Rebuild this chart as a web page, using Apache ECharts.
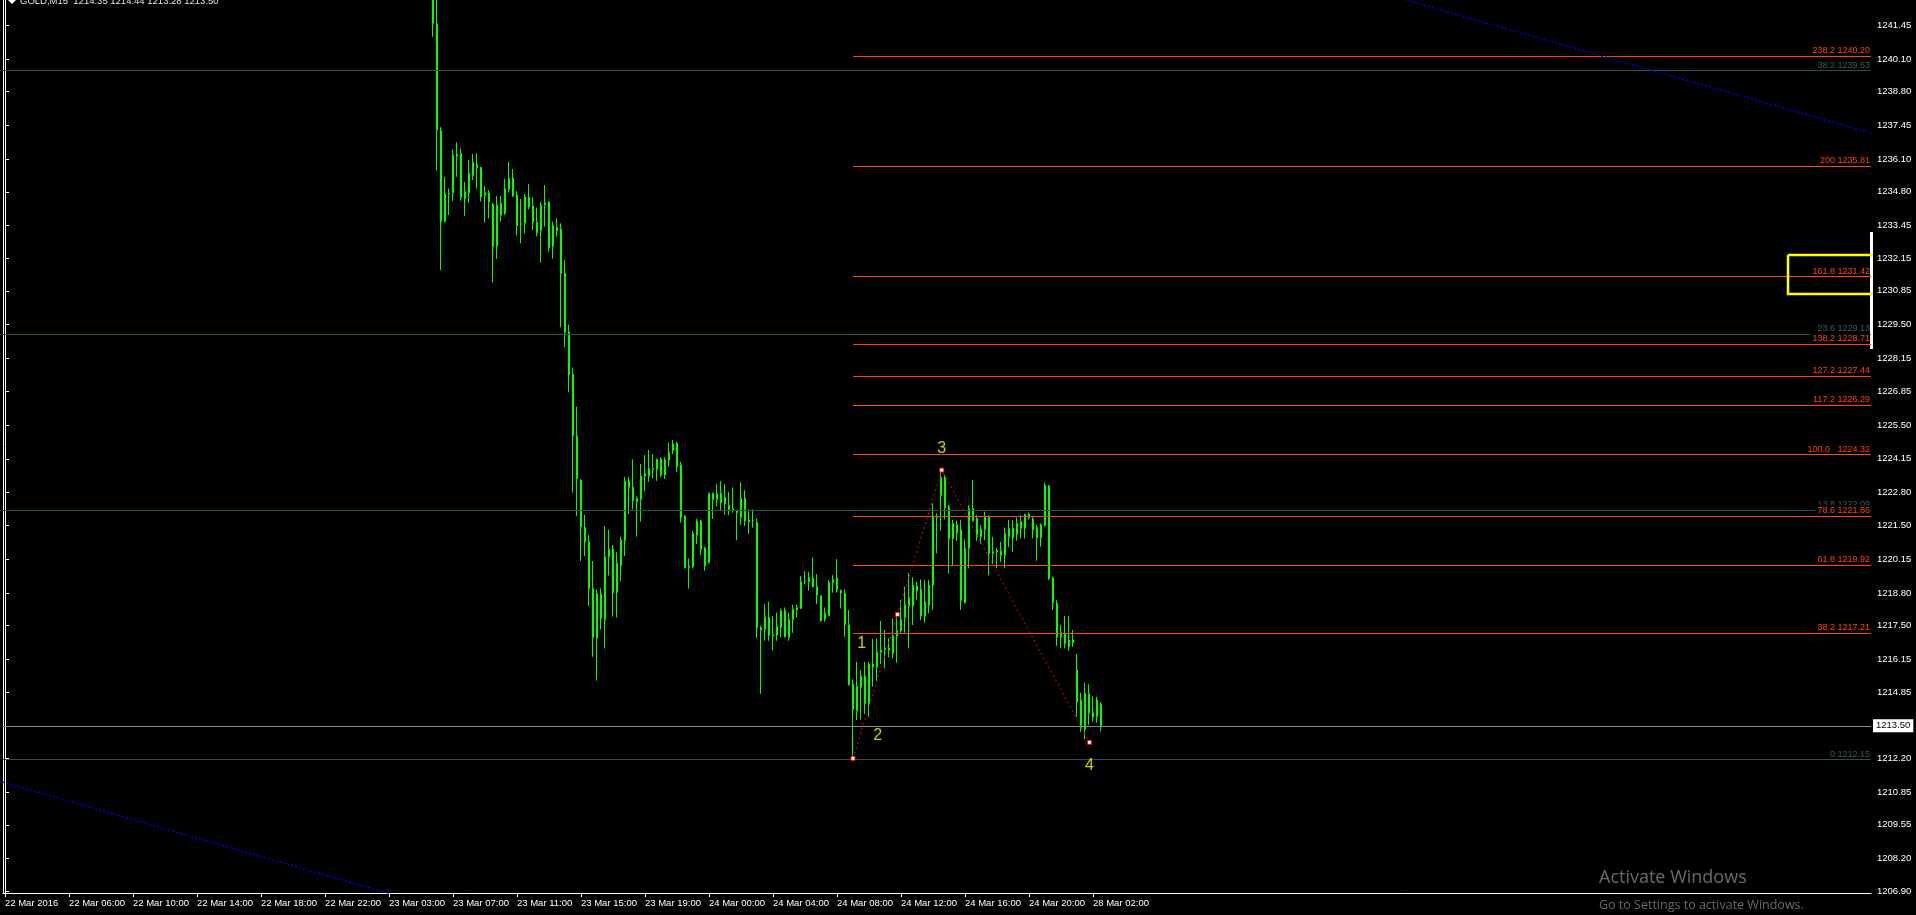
<!DOCTYPE html>
<html><head><meta charset="utf-8">
<script src="https://cdn.jsdelivr.net/npm/echarts@6/dist/echarts.min.js"></script>
<style>html,body{margin:0;padding:0;background:#000;overflow:hidden}#c{width:1916px;height:915px}</style>
</head><body><div id="c"></div>
<script>
// ---------- data ----------
const headerText = 'GOLD,M15  1214.35 1214.44 1213.28 1213.50';
const totalSlots = 467;          // bar slots across the chart (incl. right shift)
const firstBar = 107;            // first visible candle slot
// [open, high, low, close]
const candles = [
[1243.60,1244.10,1240.98,1241.52],[1241.49,1242.90,1235.64,1237.26],[1237.22,1237.38,1231.68,1233.61],
[1233.61,1235.39,1233.58,1234.71],[1234.70,1234.93,1233.87,1234.74],[1234.76,1236.50,1234.43,1236.26],
[1236.22,1236.78,1235.40,1236.30],[1236.33,1236.54,1234.44,1234.58],[1234.52,1235.19,1233.84,1234.82],
[1234.76,1236.07,1234.36,1235.53],[1235.44,1236.30,1235.27,1235.97],[1235.89,1236.34,1234.93,1235.76],
[1235.77,1235.80,1234.42,1234.60],[1234.66,1235.03,1233.57,1234.76],[1234.74,1234.87,1233.74,1234.40],
[1234.31,1234.34,1231.17,1232.61],[1232.64,1234.63,1232.12,1234.27],[1234.34,1234.63,1233.61,1233.87],
[1233.94,1235.31,1233.87,1234.93],[1234.90,1235.99,1234.76,1235.33],[1235.33,1235.71,1234.60,1234.64],
[1234.66,1234.83,1233.05,1233.45],[1233.49,1234.51,1232.74,1233.54],[1233.54,1234.71,1233.14,1234.60],
[1234.58,1235.11,1234.10,1234.20],[1234.23,1234.58,1233.27,1233.61],[1233.57,1234.18,1233.03,1233.17],
[1233.25,1234.38,1231.97,1234.27],[1234.28,1235.07,1233.41,1234.36],[1234.39,1234.42,1232.41,1232.58],
[1232.61,1233.61,1232.13,1233.46],[1233.38,1233.74,1233.01,1233.25],[1233.30,1233.54,1229.40,1231.54],
[1231.54,1232.08,1228.60,1229.20],[1229.20,1229.50,1226.80,1227.50],[1227.50,1227.80,1222.80,1225.07],
[1225.06,1226.23,1221.87,1223.37],[1223.30,1223.33,1220.07,1221.44],[1221.41,1221.91,1220.27,1220.84],
[1220.84,1221.11,1218.28,1218.98],[1218.98,1220.07,1216.25,1217.03],[1216.99,1218.94,1215.30,1218.78],
[1218.74,1218.98,1217.34,1217.78],[1217.72,1221.47,1216.59,1220.24],[1220.24,1221.33,1219.49,1220.54],
[1220.54,1220.71,1217.85,1218.81],[1218.81,1220.42,1217.82,1219.98],[1219.88,1221.04,1219.27,1220.91],
[1220.88,1223.43,1220.27,1223.26],[1223.26,1223.43,1221.95,1223.01],[1223.01,1224.13,1222.13,1222.48],
[1222.44,1222.64,1221.04,1222.57],[1222.53,1223.94,1221.64,1223.46],[1223.46,1224.30,1222.84,1223.54],
[1223.46,1224.50,1223.23,1223.77],[1223.77,1224.34,1223.37,1223.73],[1223.73,1224.16,1223.27,1224.13],
[1224.13,1224.21,1223.41,1223.50],[1223.50,1224.21,1223.34,1224.10],[1224.10,1224.79,1223.83,1224.40],
[1224.47,1224.90,1224.34,1224.74],[1224.76,1224.82,1223.63,1223.83],[1223.90,1224.03,1221.60,1221.81],
[1221.87,1221.91,1219.78,1219.80],[1219.87,1220.18,1218.97,1219.82],[1219.84,1221.27,1219.80,1221.17],
[1221.11,1221.75,1220.75,1221.67],[1221.67,1221.71,1220.31,1220.54],[1220.58,1220.64,1219.68,1219.88],
[1220.00,1222.80,1219.98,1222.77],[1222.77,1222.80,1221.75,1222.53],[1222.53,1223.14,1222.26,1222.77],
[1222.77,1223.26,1222.10,1222.40],[1222.61,1223.14,1221.91,1222.37],[1222.29,1222.82,1221.91,1222.13],
[1222.16,1223.01,1222.00,1222.08],[1222.10,1222.12,1220.91,1222.00],[1221.81,1223.21,1221.51,1222.57],
[1222.57,1222.90,1221.47,1221.68],[1221.71,1222.13,1221.15,1221.64],[1221.68,1222.13,1221.40,1221.71],
[1221.61,1221.77,1217.01,1217.41],[1217.40,1217.48,1214.77,1217.32],[1217.34,1218.36,1216.89,1217.85],
[1217.82,1218.45,1216.89,1217.11],[1217.13,1217.88,1216.49,1217.08],[1217.11,1218.02,1216.89,1217.45],
[1217.42,1218.18,1217.03,1218.09],[1218.09,1218.22,1217.03,1217.05],[1217.03,1218.02,1216.89,1217.74],
[1217.74,1218.32,1217.21,1218.14],[1218.12,1218.34,1217.82,1218.22],[1218.18,1219.47,1218.16,1219.25],
[1219.25,1219.67,1219.14,1219.27],[1219.25,1219.63,1218.89,1219.42],[1219.38,1220.22,1219.02,1219.05],
[1219.05,1219.55,1218.36,1218.71],[1218.69,1218.71,1217.65,1217.69],[1217.74,1218.22,1217.65,1217.98],
[1217.89,1219.31,1217.89,1219.22],[1219.21,1219.51,1218.81,1219.34],[1219.38,1220.15,1218.81,1218.94],
[1218.89,1218.94,1218.18,1218.80],[1218.78,1218.95,1217.05,1217.54],[1217.52,1218.12,1215.10,1215.15],
[1215.15,1215.35,1212.15,1214.15],[1214.10,1216.05,1213.73,1215.08],[1215.03,1215.72,1213.75,1215.48],
[1215.48,1216.05,1213.97,1214.39],[1214.39,1216.05,1213.86,1215.96],[1215.96,1216.96,1215.06,1215.85],
[1215.83,1216.99,1215.30,1216.43],[1216.43,1217.68,1215.96,1216.52],[1216.52,1217.32,1215.79,1216.59],
[1216.59,1216.99,1216.23,1216.52],[1216.39,1217.78,1216.19,1217.08],[1217.08,1217.85,1216.01,1217.29],
[1217.29,1218.51,1217.21,1217.74],[1217.82,1219.05,1217.21,1218.34],[1218.28,1219.60,1216.59,1218.62],
[1218.28,1219.42,1217.52,1219.11],[1219.07,1219.25,1218.54,1218.89],[1218.94,1219.34,1217.72,1217.88],
[1217.88,1219.31,1217.61,1218.45],[1218.31,1219.31,1217.98,1219.11],[1219.11,1222.37,1218.12,1221.84],
[1221.84,1221.97,1220.38,1221.81],[1222.68,1223.77,1221.28,1223.41],[1223.41,1223.50,1221.73,1222.21],
[1222.21,1222.30,1219.58,1220.97],[1220.96,1221.71,1219.87,1221.57],[1221.51,1221.68,1220.88,1221.20],
[1221.31,1221.71,1218.12,1218.51],[1218.41,1220.93,1218.38,1220.58],[1220.58,1222.30,1219.78,1222.17],
[1222.17,1223.30,1221.64,1221.68],[1221.77,1221.90,1220.88,1221.04],[1221.04,1221.51,1220.77,1221.33],
[1221.33,1222.04,1220.91,1221.84],[1221.81,1221.90,1219.51,1220.38],[1220.38,1221.04,1219.95,1220.44],
[1220.44,1220.58,1219.78,1220.51],[1220.46,1220.84,1220.04,1220.30],[1220.30,1221.41,1219.78,1221.17],
[1221.04,1221.71,1220.62,1221.37],[1221.37,1221.71,1220.44,1221.01],[1221.15,1221.81,1220.88,1221.57],
[1221.37,1221.90,1220.97,1221.64],[1221.37,1221.94,1220.97,1221.94],[1221.94,1222.00,1221.73,1221.81],
[1221.75,1221.84,1220.97,1221.33],[1221.41,1221.51,1220.08,1221.01],[1221.01,1221.57,1220.64,1221.51],
[1221.51,1223.19,1221.46,1223.10],[1223.06,1223.10,1219.31,1219.38],[1219.38,1219.44,1218.12,1218.41],
[1218.38,1218.51,1216.68,1217.05],[1217.05,1217.52,1216.59,1217.21],[1217.18,1217.88,1216.59,1216.79],
[1216.65,1217.88,1216.49,1216.92],[1216.92,1217.32,1216.65,1216.81],[1215.72,1216.36,1213.86,1214.46],
[1214.53,1214.82,1213.26,1213.44],[1213.36,1215.22,1212.96,1214.79],[1214.76,1215.16,1213.53,1214.02],
[1214.02,1214.66,1213.66,1213.86],[1213.86,1214.66,1213.62,1214.53],[1214.35,1214.44,1213.28,1213.50]
];
const timeLabels = ['22 Mar 2016','22 Mar 06:00','22 Mar 10:00','22 Mar 14:00','22 Mar 18:00','22 Mar 22:00',
  '23 Mar 03:00','23 Mar 07:00','23 Mar 11:00','23 Mar 15:00','23 Mar 19:00','24 Mar 00:00','24 Mar 04:00',
  '24 Mar 08:00','24 Mar 12:00','24 Mar 16:00','24 Mar 20:00','28 Mar 02:00'];
const labelEvery = 16;
const priceLabels = [1206.90,1208.20,1209.55,1210.85,1212.20,1214.85,1216.15,1217.50,1218.80,1220.15,1221.50,
  1222.80,1224.15,1225.50,1226.85,1228.15,1229.50,1230.85,1232.15,1233.45,1234.80,1236.10,1237.45,1238.80,
  1240.10,1241.45];
const priceMin = 1206.83, priceMax = 1242.45;
const bidPrice = 1213.50;
const fibExpStart = 212;
const fibExpPrices = [1217.21,1219.92,1221.86,1224.32,1226.29,1227.44,1228.71,1231.42,1235.81,1240.20];
const fibExpLabels = ['38.2 1217.21','61.8 1219.92','78.6 1221.86','100.0   1224.32','117.2 1226.29',
  '127.2 1227.44','138.2 1228.71','161.8 1231.42','200 1235.81','238.2 1240.20'];
const fibRetPrices = [1239.63,1229.13,1222.09,1212.15];
const fibRetLabels = ['38.2 1239.63','23.6 1229.13','13.8 1222.09','0 1212.15'];
const wavePoints = [[212,1212.20],[223.1,1217.94],[234.2,1223.70],[271.1,1212.84]];
const waveLabels = [[214.2,1216.79,'1'],[218.2,1213.10,'2'],[234.2,1224.54,'3'],[271.1,1211.93,'4']];
const channelUpper = [[300,1244.74],[467,1237.12]];
const channelLower = [[-0.5,1211.25],[100,1206.63]];
const boxCorners = [[445.75,1232.28],[467.75,1230.72]];

// ---------- chart ----------
const FONT = 'Liberation Sans, Arial, sans-serif';
const chart = echarts.init(document.getElementById('c'));
const catData = Array.from({length: totalSlots}, (_, i) => i);
const candleData = candles.map((r, k) => [firstBar + k, r[0], r[3], r[2], r[1]]);
const showIdx = (i) => i % labelEvery === 0 && i / labelEvery < timeLabels.length;
const tickVals = priceLabels.concat([bidPrice]);
const xEnd = totalSlots - 0.5;

const option = {
  backgroundColor: '#000',
  animation: false,
  grid: {left: 3, right: 45, top: 0, bottom: 22, outerBoundsMode: 'none'},
  xAxis: [
    {type: 'category', data: catData, boundaryGap: true,
     axisLine: {show: true, lineStyle: {color: '#fff', width: 1}},
     axisTick: {show: true, alignWithLabel: true, interval: showIdx, length: 4, lineStyle: {color: '#fff'}},
     axisLabel: {show: true, interval: showIdx, formatter: (v, i) => timeLabels[i / labelEvery],
                 align: 'left', color: '#fff', fontSize: 9.5, fontFamily: FONT, margin: 5},
     splitLine: {show: false}},
    {type: 'value', min: -0.5, max: xEnd, show: false}
  ],
  yAxis: [{type: 'value', position: 'right', min: priceMin, max: priceMax,
    splitLine: {show: false},
    axisLine: {show: true, lineStyle: {color: '#fff', width: 1}},
    axisTick: {show: true, customValues: tickVals, length: 4, lineStyle: {color: '#fff'}},
    axisLabel: {customValues: priceLabels, formatter: (v) => Number(v).toFixed(2), color: '#fff',
                fontSize: 9.5, fontFamily: FONT, margin: 6}}],
  series: [
    {type: 'line', xAxisIndex: 1, data: [], z: 2, silent: true,
     markLine: {silent: true, symbol: ['none', 'none'], animation: false,
       lineStyle: {color: '#2F4F4F', width: 1, type: 'solid'}, emphasis: {disabled: true},
       label: {show: true, position: 'insideEndTop', formatter: '{b}', color: '#3a5e5e', fontSize: 9,
               fontFamily: FONT, distance: 1, padding: [1, 0, 0, 2]},
       data: fibRetPrices.map((p, k) => [{name: fibRetLabels[k], coord: [-0.5, p]}, {coord: [xEnd, p]}])}},
    {type: 'line', xAxisIndex: 1, data: [], z: 2, silent: true,
     markLine: {silent: true, symbol: ['none', 'none'], animation: false,
       lineStyle: {color: '#8c8c8c', width: 1, type: 'solid'}, emphasis: {disabled: true},
       label: {show: true, position: 'end', formatter: bidPrice.toFixed(2), color: '#000', backgroundColor: '#fff',
               fontSize: 9.5, fontFamily: FONT, distance: 2, padding: [2, 3, 1, 3]},
       data: [[{coord: [-0.5, bidPrice]}, {coord: [xEnd, bidPrice]}]]}},
    {type: 'candlestick', xAxisIndex: 0, data: candleData, encode: {x: 0, y: [1, 2, 3, 4]},
     barWidth: 2, z: 3, silent: true,
     itemStyle: {color: '#000000', color0: '#ffffff', borderColor: '#00FF00', borderColor0: '#00FF00',
                 borderColorDoji: '#00FF00', borderWidth: 1}},
    {type: 'line', xAxisIndex: 1, data: [], z: 4, silent: true,
     markLine: {silent: true, symbol: ['none', 'none'], animation: false,
       lineStyle: {color: '#FF4500', width: 1, type: 'solid'}, emphasis: {disabled: true},
       label: {show: true, position: 'insideEndTop', formatter: '{b}', color: '#FF4500', fontSize: 9,
               fontFamily: FONT, distance: 1, backgroundColor: '#000', padding: [1, 0, 0, 2]},
       data: fibExpPrices.map((p, k) => [{name: fibExpLabels[k], coord: [fibExpStart, p]}, {coord: [xEnd, p]}])}},
    {type: 'line', xAxisIndex: 1, data: channelUpper, symbol: 'none', z: 5, silent: true,
     lineStyle: {color: '#0000FF', width: 1.3, type: [2, 2]}},
    {type: 'line', xAxisIndex: 1, data: channelLower, symbol: 'none', z: 5, silent: true,
     lineStyle: {color: '#0000FF', width: 1.3, type: [2, 2]}},
    {type: 'line', xAxisIndex: 1, data: wavePoints, z: 6, silent: true,
     symbol: 'rect', symbolSize: 4, showAllSymbol: true,
     itemStyle: {color: '#ffffff', borderColor: '#FF0000', borderWidth: 1},
     lineStyle: {color: '#FF0000', width: 1, type: [2, 3]}},
    {type: 'scatter', xAxisIndex: 1, data: waveLabels, symbolSize: 0, z: 7, silent: true,
     label: {show: true, position: 'inside', formatter: (p) => p.value[2], color: '#FFFF00',
             fontSize: 16, fontFamily: FONT}},
    {type: 'line', xAxisIndex: 1, clip: false, symbol: 'none', z: 8, silent: true,
     data: [[boxCorners[0][0], boxCorners[0][1]], [boxCorners[1][0], boxCorners[0][1]],
            [boxCorners[1][0], boxCorners[1][1]], [boxCorners[0][0], boxCorners[1][1]],
            [boxCorners[0][0], boxCorners[0][1]]],
     lineStyle: {color: '#FFFF00', width: 2.5, join: 'miter'}}
  ],
  graphic: [
    {type: 'line', shape: {x1: 3.5, y1: 0, x2: 3.5, y2: 893}, style: {stroke: '#ffffff', lineWidth: 1}, silent: true},
    {type: 'rect', shape: {x: 1870, y: 232, width: 3, height: 117}, style: {fill: '#ffffff'}, silent: true},
    {type: 'polygon', shape: {points: [[8, 0], [16, 0], [12, 4]]}, style: {fill: '#ffffff'}, silent: true},
    {type: 'text', x: 20, y: 1.5, silent: true,
     style: {text: headerText, fill: '#e6e6e6', font: '9.5px ' + FONT, verticalAlign: 'middle'}},
    {type: 'text', x: 1599, y: 878, silent: true, z: 100,
     style: {text: 'Activate Windows', fill: '#6a6a6a', font: '18px "Open Sans", sans-serif', verticalAlign: 'middle'}},
    {type: 'text', x: 1599, y: 905, silent: true, z: 100,
     style: {text: 'Go to Settings to activate Windows.', fill: '#6a6a6a', font: '12.5px "Open Sans", sans-serif', verticalAlign: 'middle'}}
  ]
};
chart.setOption(option);
</script>
</body></html>
